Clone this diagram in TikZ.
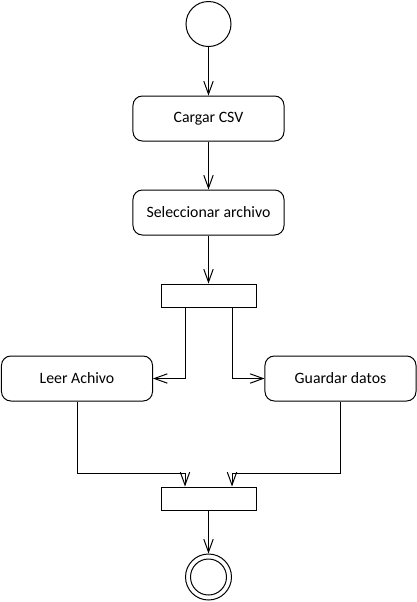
\documentclass[tikz,border=0pt]{standalone}
\usepackage{fontspec}
\setmainfont{Carlito}
\usetikzlibrary{calc,arrows.meta}
\def\pxScale{0.03}
\def\lineThickness{(0.85pt)}
\def\fScale{\fontsize{13.5}{15}\selectfont}
\def\barShift{23.5}
\tikzset{act/.style={draw=black,line width=\lineThickness,rounded corners=8pt,minimum width=4.53cm,minimum height=1.35cm,inner sep=0,font=\fScale}}
\tikzset{syncbar/.style={draw=black,line width=\lineThickness,minimum width=2.85cm,minimum height=0.69cm,inner sep=0}}
\tikzset{startdot/.style={draw=black,line width=\lineThickness,circle,minimum size=1.35cm,inner sep=0}}
\tikzset{flow/.style={black,line width=\lineThickness,-{Straight Barb[length=11pt,width=8pt]}}}

\begin{document}
\begin{tikzpicture}[x=\pxScale cm,y=-\pxScale cm]
\useasboundingbox (0,0) rectangle (417,602);
% acciones
\node[startdot] (ini) at (208.5,24) {};
\node[act] (cargar) at (208.5,118.5) {Cargar CSV};
\node[act] (sel) at (208.5,212.5) {Seleccionar archivo};
\node[syncbar] (fork) at (208.5,295.5) {};
\node[act] (leer) at (77,378.5) {Leer Achivo};
\node[act] (guardar) at (340.5,378.5) {Guardar datos};
\node[syncbar] (join) at (208.5,498.5) {};
\node[startdot,minimum size=1.38cm] (fin) at (208.5,577) {};
\draw[line width=\lineThickness] (fin.center) circle (0.54cm);
% flujo
\draw[flow] (ini) -- (cargar);
\draw[flow] (cargar) -- (sel);
\draw[flow] (sel) -- (fork);
\draw[flow] ($(fork.south)+(-\barShift,0)$) |- (leer);
\draw[flow] ($(fork.south)+(\barShift,0)$) |- (guardar);
\draw[flow] (leer.south) -- ++(0,72) -| ($(join.north)+(-\barShift,0)$);
\draw[flow] (guardar.south) -- ++(0,72) -| ($(join.north)+(\barShift,0)$);
\draw[flow] (join) -- (fin);
\end{tikzpicture}
\end{document}
